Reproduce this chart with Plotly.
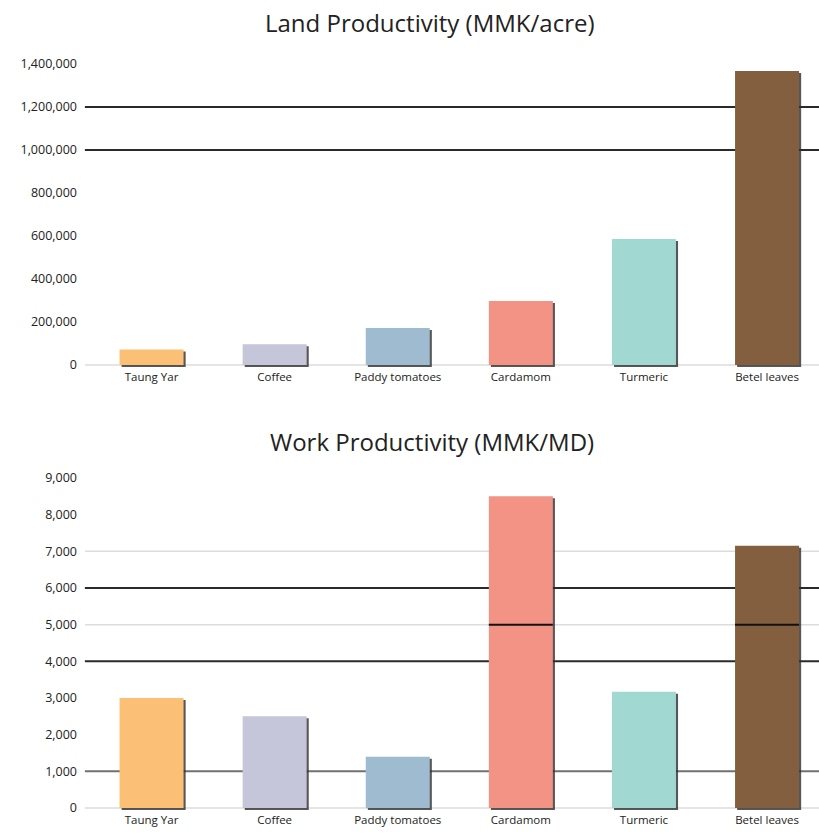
import plotly.graph_objects as go
from plotly.subplots import make_subplots

# ---- data ----
crops = ["Taung Yar", "Coffee", "Paddy tomatoes", "Cardamom", "Turmeric", "Betel leaves"]
land_productivity = [72000, 97000, 172000, 298000, 586000, 1367000]   # MMK/acre
work_productivity = [3000, 2500, 1400, 8500, 3170, 7150]              # MMK/MD
crop_colors = ["#FBC076", "#C5C6D9", "#9FBBD0", "#F39386", "#A2D8D2", "#845F3F"]

land_ticks = [0, 200000, 400000, 600000, 800000, 1000000, 1200000, 1400000]
work_ticks = [0, 1000, 2000, 3000, 4000, 5000, 6000, 7000, 8000, 9000]

# horizontal rules: (value, colour, width)
land_rules = [(0, "#dddddd", 1.5), (1000000, "#2a2a2a", 2), (1200000, "#2a2a2a", 2)]
work_rules = [(0, "#dddddd", 1.5), (1000, "#707070", 2), (4000, "#2a2a2a", 2),
              (5000, "#dddddd", 1.5), (6000, "#2a2a2a", 2), (7000, "#dddddd", 1.5)]
work_split = 5000   # dark divider drawn across bars that exceed this value

# ---- geometry (pixels) ----
W, H = 819, 835
LEFT = 90
land_px = (365, 64)     # pixel rows of 0 and of the top tick
work_px = (808, 478)
PAD_PX = 3              # room below zero for the bar shadow
BAR_W = 0.52
SHADOW_DX = 0.017

def axis_setup(px, top_val):
    per_px = top_val / (px[0] - px[1])
    rng = [-PAD_PX * per_px, top_val]
    dom = [1 - (px[0] + PAD_PX) / H, 1 - px[1] / H]
    return rng, dom, per_px

land_range, land_dom, land_per_px = axis_setup(land_px, land_ticks[-1])
work_range, work_dom, work_per_px = axis_setup(work_px, work_ticks[-1])

fig = make_subplots(rows=2, cols=1)

def add_bars(values, row, per_px, split=None):
    # drop shadow
    fig.add_trace(go.Bar(
        x=crops, y=values, base=-2 * per_px, width=BAR_W,
        offset=-BAR_W / 2 + SHADOW_DX,
        marker=dict(color="rgba(45,45,45,0.8)", line=dict(width=0)),
        hoverinfo="skip", showlegend=False), row=row, col=1)
    fig.add_trace(go.Bar(
        x=crops, y=values, width=BAR_W, offset=-BAR_W / 2,
        marker=dict(color=crop_colors, line=dict(width=0)),
        showlegend=False), row=row, col=1)
    if split is not None:
        thick = 2 * per_px
        fig.add_trace(go.Bar(
            x=crops, y=[thick if v > split else 0 for v in values],
            base=split - thick / 2, width=BAR_W, offset=-BAR_W / 2,
            marker=dict(color="#111111", line=dict(width=0)),
            hoverinfo="skip", showlegend=False), row=row, col=1)

add_bars(land_productivity, 1, land_per_px)
add_bars(work_productivity, 2, work_per_px, split=work_split)

shapes = []
for rules, yref in ((land_rules, "y"), (work_rules, "y2")):
    for val, col, w in rules:
        shapes.append(dict(type="line", xref="x domain" if yref == "y" else "x2 domain",
                           yref=yref, x0=-0.007, x1=1, y0=val, y1=val,
                           line=dict(color=col, width=w), layer="below"))

x_span = (W - LEFT) / 123.1
x_range = [-0.5, -0.5 + x_span]

font = "Open Sans, Lato, sans-serif"
common_x = dict(range=x_range, showgrid=False, zeroline=False, showline=False,
                ticks="", automargin=False,
                tickfont=dict(size=11.5, color="#222222", family=font))
common_y = dict(showgrid=False, zeroline=False, showline=False, ticks="",
                tickformat=",d", ticklabelstandoff=12, automargin=False,
                tickfont=dict(size=12.5, color="#222222", family=font))

fig.update_layout(
    width=W, height=H,
    margin=dict(l=LEFT, r=0, t=0, b=0, autoexpand=False),
    paper_bgcolor="white", plot_bgcolor="white",
    barmode="overlay",
    shapes=shapes,
    xaxis=dict(common_x, domain=[0, 1], anchor="y"),
    xaxis2=dict(common_x, domain=[0, 1], anchor="y2"),
    yaxis=dict(common_y, domain=land_dom, range=land_range, tickvals=land_ticks),
    yaxis2=dict(common_y, domain=work_dom, range=work_range, tickvals=work_ticks),
    annotations=[
        dict(text="Land Productivity (MMK/acre)", xref="paper", yref="paper",
             x=(430 - LEFT) / (W - LEFT), y=1 - 22 / H, xanchor="center", yanchor="middle",
             showarrow=False, font=dict(size=24, color="#222222", family=font)),
        dict(text="Work Productivity (MMK/MD)", xref="paper", yref="paper",
             x=(432 - LEFT) / (W - LEFT), y=1 - 441 / H, xanchor="center", yanchor="middle",
             showarrow=False, font=dict(size=24, color="#222222", family=font)),
    ],
)

fig.write_html("out.html")
